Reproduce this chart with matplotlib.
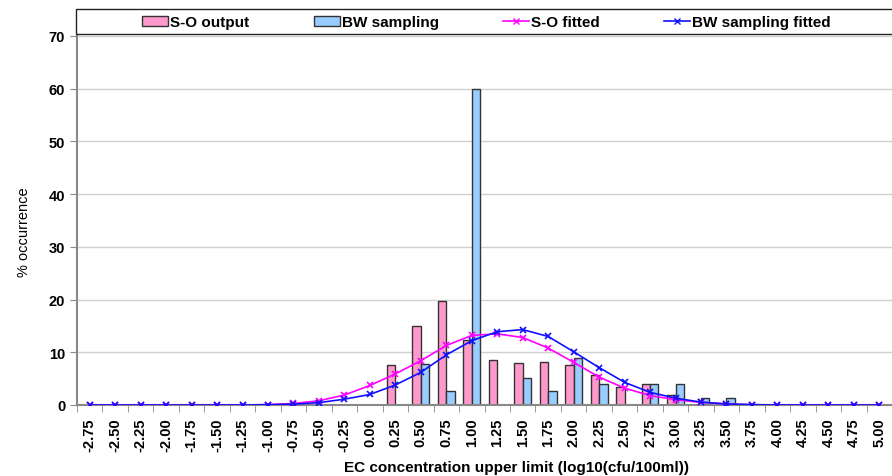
import numpy as np
import matplotlib
matplotlib.use('Agg')
import matplotlib.pyplot as plt
from matplotlib.patches import Patch, Rectangle
from matplotlib.lines import Line2D
from matplotlib import rcParams
rcParams.update({'font.family': ['Liberation Sans', 'DejaVu Sans'], 'font.size': 10})

# upper limit classes, log10(cfu/100ml)
bins = ['-2.75', '-2.50', '-2.25', '-2.00', '-1.75', '-1.50', '-1.25', '-1.00',
        '-0.75', '-0.50', '-0.25', '0.00', '0.25', '0.50', '0.75', '1.00',
        '1.25', '1.50', '1.75', '2.00', '2.25', '2.50', '2.75', '3.00',
        '3.25', '3.50', '3.75', '4.00', '4.25', '4.50', '4.75', '5.00']

# % occurrence per class
so_output = [0, 0, 0, 0, 0, 0, 0, 0,
             0, 0, 0, 0, 7.6, 14.9, 19.8, 12.4,
             8.6, 8.0, 8.2, 7.6, 5.7, 3.4, 4.0, 1.9,
             0, 0, 0, 0, 0, 0, 0, 0]
bw_sampling = [0, 0, 0, 0, 0, 0, 0, 0,
               0, 0, 0, 0, 0, 7.8, 2.7, 60.0,
               0, 5.1, 2.7, 8.9, 4.0, 0, 4.0, 4.0,
               1.3, 1.3, 0, 0, 0, 0, 0, 0]
so_fitted = [0, 0, 0, 0, 0, 0, 0, 0.08,
             0.3, 0.8, 1.9, 3.7, 5.9, 8.4, 11.3, 13.2,
             13.5, 12.8, 10.8, 8.1, 5.3, 3.2, 1.8, 1.0,
             0.5, 0.2, 0.05, 0, 0, 0, 0, 0]
bw_fitted = [0, 0, 0, 0, 0, 0, 0, 0.05,
             0.15, 0.45, 1.1, 2.0, 3.8, 6.2, 9.5, 12.2,
             13.9, 14.3, 13.0, 10.1, 7.1, 4.3, 2.4, 1.3,
             0.55, 0.2, 0.07, 0, 0, 0, 0, 0]

c_so = '#FF99CC'
c_bw = '#99CCFF'
x = np.arange(len(bins))
w = 0.33

fig = plt.figure(figsize=(8.92, 4.77), dpi=100)
ax = fig.add_axes([77/892, 1-406/477, 1-77/892, (406-37)/477])

ax.bar(x - w/2, so_output, w, color=c_so, edgecolor='#333333', linewidth=1, zorder=2)
ax.bar(x + w/2, bw_sampling, w, color=c_bw, edgecolor='#333333', linewidth=1, zorder=2)
ax.plot(x, so_fitted, color='#FF00FF', marker='x', ms=5, mew=1.2, lw=1.2, zorder=3)
ax.plot(x, bw_fitted, color='#1010FF', marker='x', ms=5, mew=1.2, lw=1.2, zorder=3)

ax.set_xlim(-0.5, len(bins) - 0.5)
ax.set_ylim(0, 70)
ax.set_yticks(np.arange(0, 71, 10))
ax.set_yticklabels([str(v) for v in range(0, 71, 10)], fontweight='bold', fontsize=10.5)
ax.set_xticks(x)
ax.set_xticklabels(bins, rotation=90, fontweight='bold', fontsize=10.5)
ax.set_xticks(np.arange(-0.5, len(bins), 1), minor=True)
ax.tick_params(axis='x', which='major', length=0, pad=9)
ax.tick_params(axis='x', which='minor', length=5, color='#888888')
ax.tick_params(axis='y', length=5, color='#888888')
ax.yaxis.grid(True, color='#D0D0D0', lw=1, zorder=0)
ax.set_axisbelow(True)
for s in ['top', 'right']:
    ax.spines[s].set_visible(False)
for s in ['left', 'bottom']:
    ax.spines[s].set_color('#888888')
    ax.spines[s].set_linewidth(1.5)

ax.set_ylabel('% occurrence', fontsize=10.5)
ax.yaxis.set_label_coords(-0.057, 0.47)
ax.set_xlabel('EC concentration upper limit (log10(cfu/100ml))', fontweight='bold', fontsize=11)
ax.xaxis.set_label_coords(0.539, -0.15)

# legend box across the top
fig.patches.append(Rectangle((76/892, 1-35/477), 1.0, 25/477, transform=fig.transFigure,
                             fill=False, edgecolor='#222222', lw=1))
handles = [Patch(facecolor=c_so, edgecolor='#333333'),
           Patch(facecolor=c_bw, edgecolor='#333333'),
           Line2D([], [], color='#FF00FF', marker='x', ms=5, lw=1.2),
           Line2D([], [], color='#1010FF', marker='x', ms=5, lw=1.2)]
fig.legend(handles, ['S-O output', 'BW sampling', 'S-O fitted', 'BW sampling fitted'],
           loc='center left', bbox_to_anchor=(142/892, 1-23/477), ncol=4, frameon=False,
           borderaxespad=0, borderpad=0,
           prop={'weight': 'bold', 'size': 11}, handlelength=1.7, handleheight=0.65,
           handletextpad=0.15, columnspacing=4.2)

plt.savefig('out.png', dpi=100)
